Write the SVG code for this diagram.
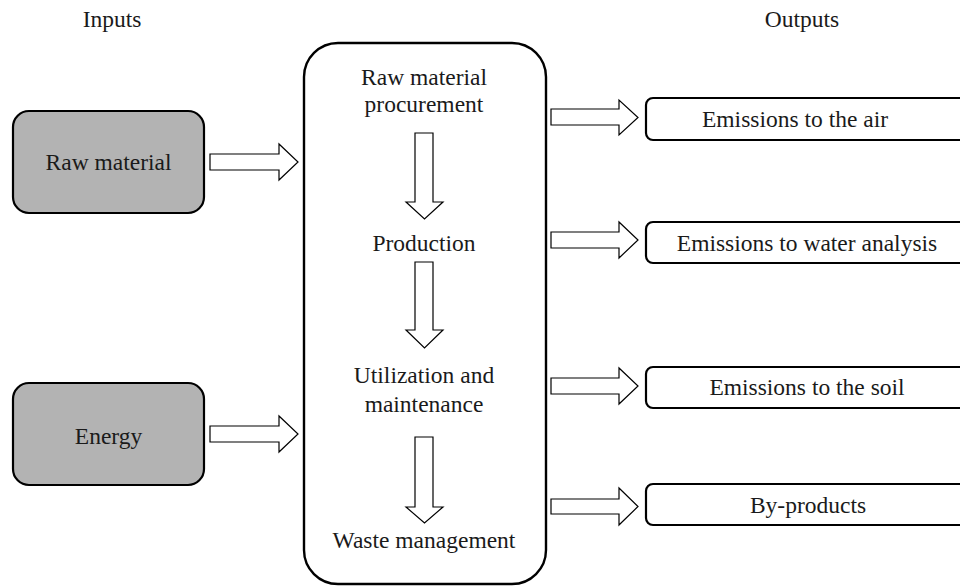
<svg xmlns="http://www.w3.org/2000/svg" width="960" height="588" viewBox="0 0 960 588">
<style>
text{font-family:"Liberation Serif","Times New Roman",serif;font-size:23.5px;fill:#1a1a1a;text-anchor:middle}
.in{fill:#b3b3b3;stroke:#000;stroke-width:2.2}
.main{fill:#fff;stroke:#000;stroke-width:2.4}
.out{fill:#fff;stroke:#000;stroke-width:2.2}
.arr{fill:#fff;stroke:#000;stroke-width:1.2;stroke-linejoin:miter}
</style>
<rect width="960" height="588" fill="#fff"/>
<text x="112" y="27">Inputs</text>
<text x="802" y="27">Outputs</text>
<g id="raw-material">
<rect class="in" x="13" y="111" width="191" height="102" rx="16"/>
<text x="108.5" y="170">Raw material</text>
</g>
<g id="energy">
<rect class="in" x="13" y="383" width="191" height="102" rx="16"/>
<text x="108.5" y="444">Energy</text>
</g>
<g id="life-cycle">
<rect class="main" x="304" y="43" width="242" height="541" rx="34"/>
<text x="424" y="85">Raw material</text>
<text x="424" y="112">procurement</text>
<text x="424" y="251">Production</text>
<text x="424" y="383">Utilization and</text>
<text x="424" y="412">maintenance</text>
<text x="424" y="548">Waste management</text>
</g>
<g id="out-air">
<rect class="out" x="646" y="98" width="330" height="42" rx="7"/>
<text x="795" y="127">Emissions to the air</text>
</g>
<g id="out-water">
<rect class="out" x="646" y="222" width="330" height="41" rx="7"/>
<text x="807" y="251">Emissions to water analysis</text>
</g>
<g id="out-soil">
<rect class="out" x="646" y="367" width="330" height="41" rx="7"/>
<text x="807" y="395">Emissions to the soil</text>
</g>
<g id="out-byproducts">
<rect class="out" x="646" y="484" width="330" height="41" rx="7"/>
<text x="808" y="513">By-products</text>
</g>
<g id="connectors">
<polygon class="arr" points="210,154 279,154 279,144 298,162 279,180 279,170 210,170"/>
<polygon class="arr" points="210,426 279,426 279,416 298,434 279,452 279,442 210,442"/>
<polygon class="arr" points="415,133 433,133 433,202 443,202 424.5,219 406,202 415,202"/>
<polygon class="arr" points="415,262 433,262 433,330 443,330 424.5,348 406,330 415,330"/>
<polygon class="arr" points="415,437 433,437 433,507 443,507 424.5,523 406,507 415,507"/>
<polygon class="arr" points="551,109 619,109 619,100 638,117.5 619,135 619,125 551,125"/>
<polygon class="arr" points="551,232 619,232 619,222 638,240 619,258 619,248 551,248"/>
<polygon class="arr" points="551,378 619,378 619,368 638,386 619,404 619,394 551,394"/>
<polygon class="arr" points="551,499 619,499 619,488 638,506.5 619,525 619,514 551,514"/>
</g>
</svg>
